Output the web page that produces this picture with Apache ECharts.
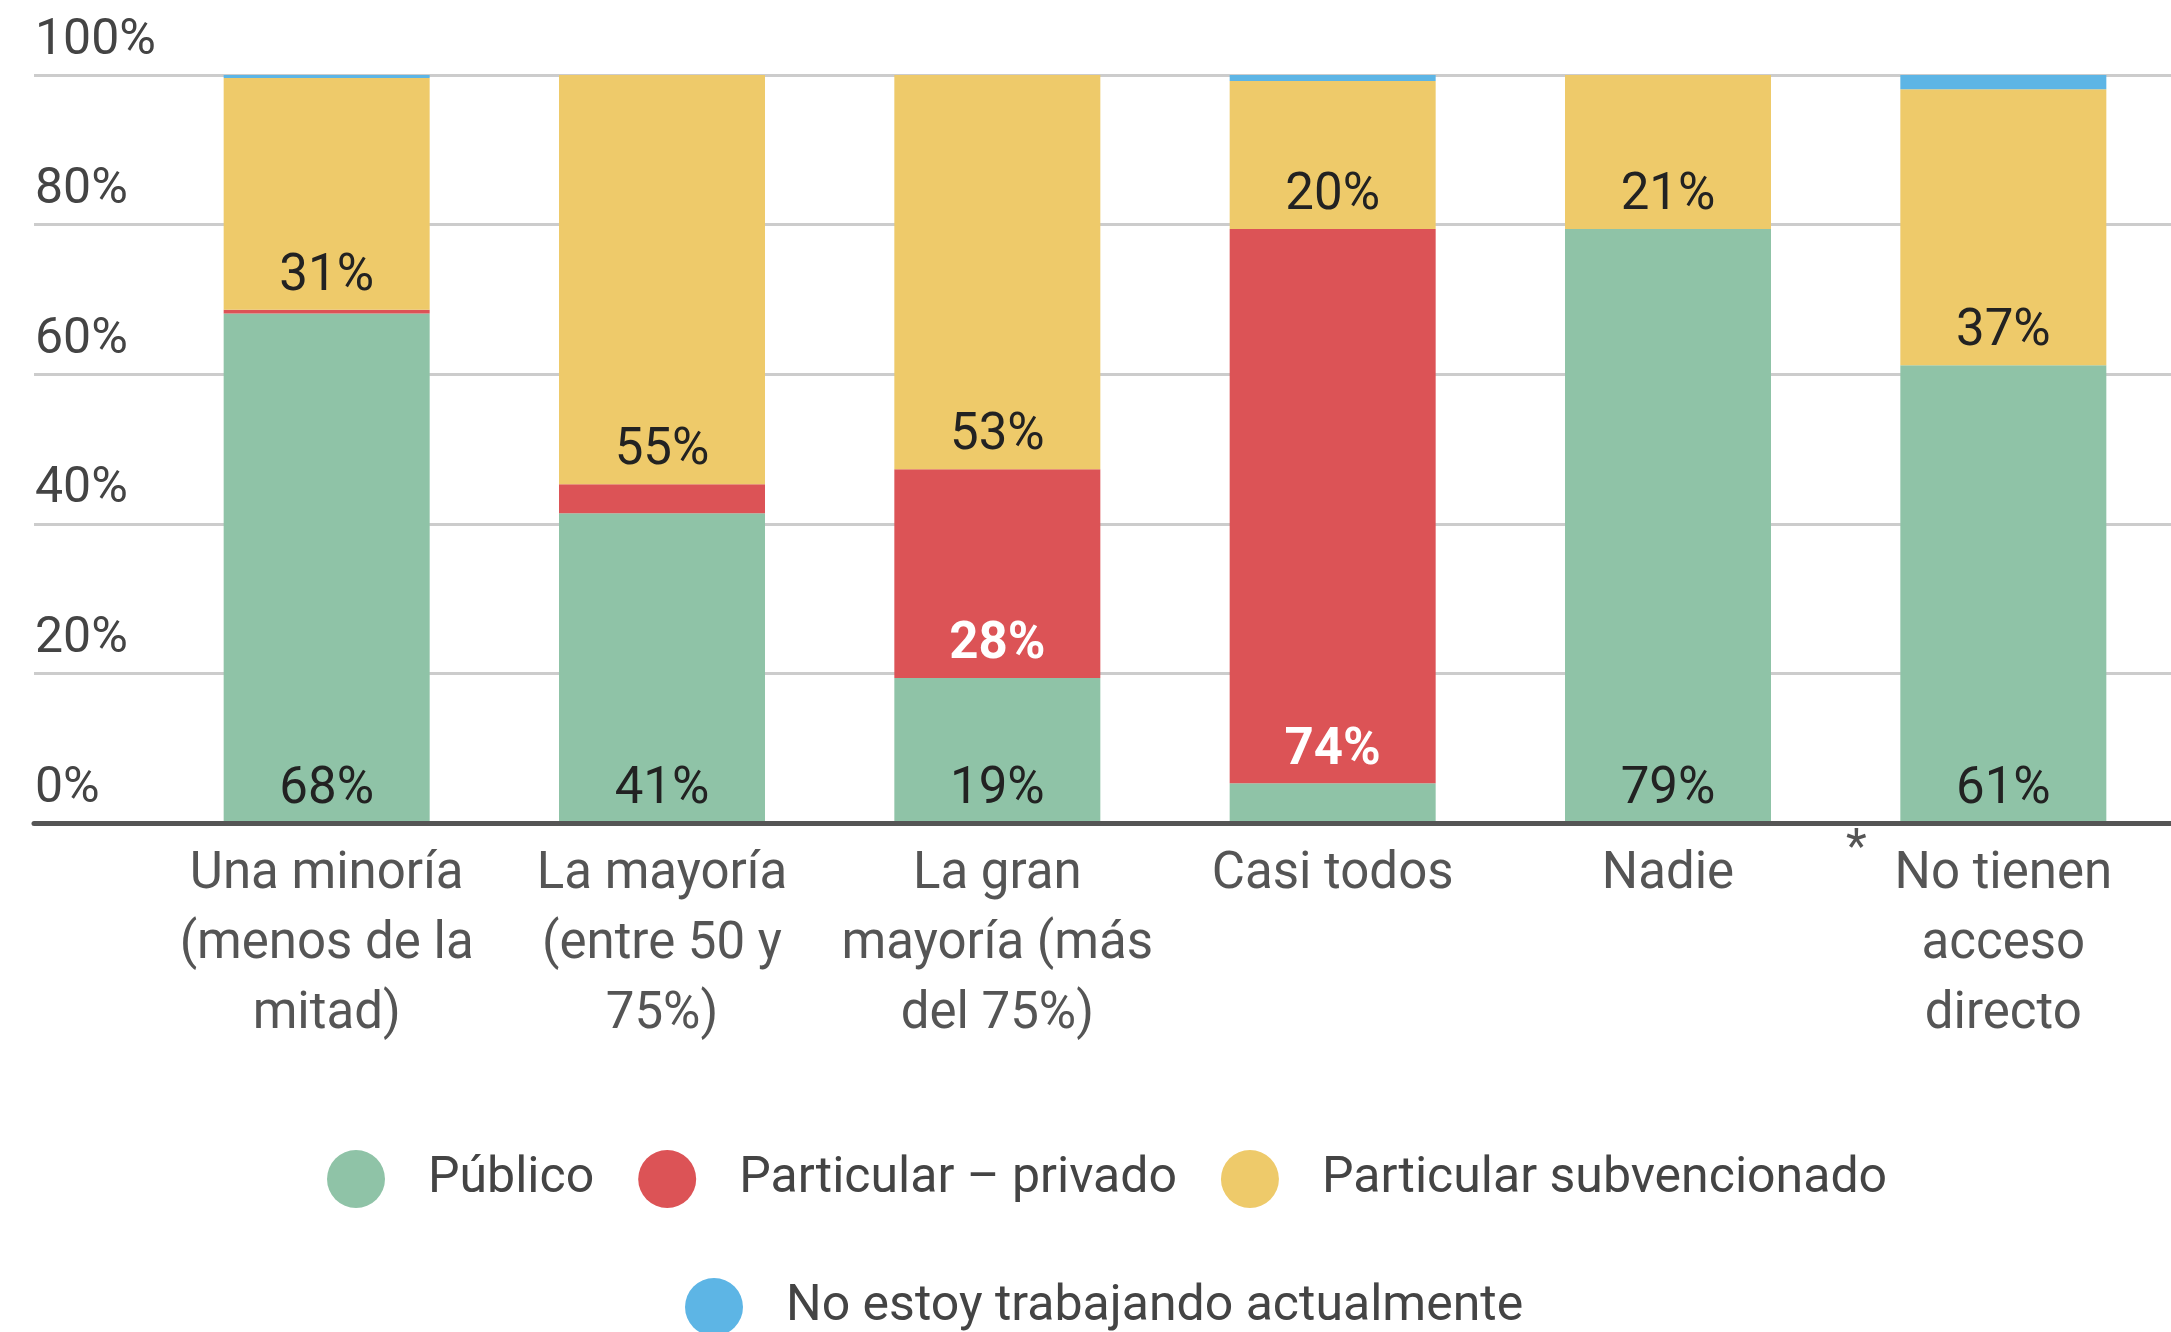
<!DOCTYPE html>
<html>
<head>
<meta charset="utf-8">
<script src="https://cdn.jsdelivr.net/npm/echarts@6/dist/echarts.min.js"></script>
<style>
    html, body {margin: 0; padding: 0; background: #fff;}
    #chart {width: 2171px; height: 1332px;}
</style>
</head>
<body>
<div id="chart"></div>
<script>
var categorias = ['Una minoría\n(menos de la\nmitad)', 'La mayoría\n(entre 50 y\n75%)', 'La gran\nmayoría (más\ndel 75%)', 'Casi todos', 'Nadie', 'No tienen\nacceso\ndirecto'];
var publico = [68.1, 41.4, 19.4, 5.3, 79.4, 61.2];
var privado = [0.5, 3.9, 27.9, 74.1, 0, 0];
var subvencionado = [31.0, 54.7, 52.7, 19.8, 20.6, 36.9];
var noTrabajando = [0.4, 0, 0, 0.8, 0, 1.9];
var ticksY = [0, 20, 40, 60, 80, 100];

var fuente = 'Roboto';
var colores = ['#8fc3a7', '#dc5356', '#eeca6a', '#5db5e5'];

function etiqueta(p) {
    return p.value >= 10 ? Math.round(p.value) + '%' : '';
}

function serie(nombre, datos, color, colorTexto, peso) {
    return {
        name: nombre,
        type: 'bar',
        stack: 'total',
        xAxisIndex: 1,
        yAxisIndex: 1,
        barWidth: 206,
        data: datos,
        itemStyle: {color: color},
        label: {
            show: true,
            position: 'insideBottom',
            distance: 7,
            formatter: etiqueta,
            fontFamily: fuente,
            fontSize: 51,
            fontWeight: peso,
            color: colorTexto
        }
    };
}

var myChart = echarts.init(document.getElementById('chart'));
myChart.setOption({
    animation: false,
    grid: [
        {left: 34, right: 0, top: 75, bottom: 509},
        {left: 159, right: 0, top: 75, bottom: 509}
    ],
    xAxis: [{
            gridIndex: 0,
            type: 'value',
            min: 0,
            max: 1,
            z: 10,
            axisLine: {show: true, lineStyle: {color: '#555', width: 5}},
            axisTick: {show: false},
            axisLabel: {show: false},
            splitLine: {show: false}
        }, {
            gridIndex: 1,
            type: 'category',
            data: categorias,
            axisLine: {show: false},
            axisTick: {show: false},
            axisLabel: {
                interval: 0,
                margin: 17,
                fontFamily: fuente,
                fontSize: 51,
                lineHeight: 70,
                color: '#555'
            }
        }],
    yAxis: [{
            gridIndex: 0,
            type: 'value',
            min: ticksY[0],
            max: ticksY[ticksY.length - 1],
            interval: 20,
            axisLine: {show: false},
            axisTick: {show: false},
            splitLine: {lineStyle: {color: '#cccccc', width: 3}},
            axisLabel: {
                inside: true,
                margin: 1,
                align: 'left',
                verticalAlign: 'bottom',
                padding: [0, 0, 9, 0],
                formatter: '{value}%',
                fontFamily: fuente,
                fontSize: 50,
                color: '#444'
            }
        }, {
            gridIndex: 1,
            type: 'value',
            min: 0,
            max: 100,
            show: false
        }],
    legend: [{
            data: ['Público', 'Particular – privado', 'Particular subvencionado'],
            left: 322,
            top: 1145,
            icon: 'circle',
            itemWidth: 58,
            itemHeight: 58,
            itemGap: 44,
            textStyle: {fontFamily: fuente, fontSize: 50, color: '#444', padding: [0, 0, 0, 38]}
        }, {
            data: ['No estoy trabajando actualmente'],
            left: 680,
            top: 1273,
            icon: 'circle',
            itemWidth: 58,
            itemHeight: 58,
            textStyle: {fontFamily: fuente, fontSize: 50, color: '#444', padding: [0, 0, 0, 38]}
        }],
    graphic: [{
            type: 'text',
            left: 1846,
            top: 826,
            style: {text: '*', font: '48px Roboto', fill: '#555'}
        }],
    series: [
        serie('Público', publico, colores[0], '#222', 'normal'),
        serie('Particular – privado', privado, colores[1], '#fff', 'bold'),
        serie('Particular subvencionado', subvencionado, colores[2], '#222', 'normal'),
        serie('No estoy trabajando actualmente', noTrabajando, colores[3], '#222', 'normal')
    ]
});
</script>
</body>
</html>
